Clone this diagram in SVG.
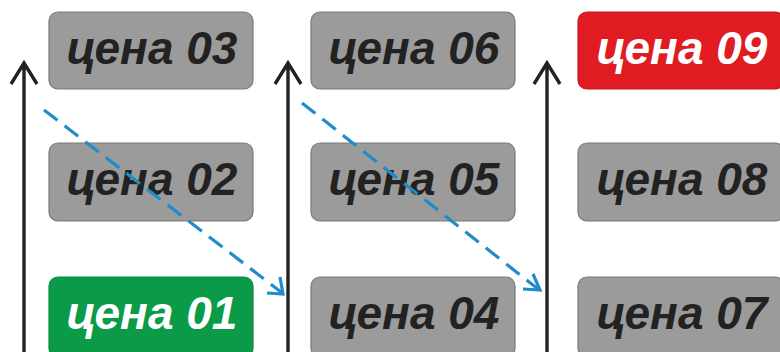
<svg xmlns="http://www.w3.org/2000/svg" width="780" height="352" viewBox="0 0 780 352">
<defs>
<style>
.box{stroke-width:1.2}
.gray{fill:#9b9b9b;stroke:#7a7a7a}
.green{fill:#0b9a48;stroke:#0b8a40}
.red{fill:#e11b22;stroke:#c8161c}
.lbl{font-family:"Liberation Sans",Arial,sans-serif;font-weight:bold;font-style:italic;font-size:46px;text-anchor:middle}
.dark{fill:#222222}
.light{fill:#ffffff}
.up{stroke:#222222;stroke-width:3.4;fill:none}
.dash{stroke:#1f8dc8;stroke-width:3.2;fill:none;stroke-dasharray:17 9}
.dhead{stroke:#1f8dc8;stroke-width:3.2;fill:none}
</style>
</defs>
<rect width="780" height="352" fill="#ffffff"/>
<g id="n03"><rect class="box gray" x="49" y="12" width="204" height="77" rx="9"/><text class="lbl dark" x="152" y="64">цена 03</text></g>
<g id="n02"><rect class="box gray" x="49" y="143" width="204" height="78" rx="9"/><text class="lbl dark" x="152" y="195">цена 02</text></g>
<g id="n01"><rect class="box green" x="49" y="277" width="204" height="80" rx="9"/><text class="lbl light" x="152" y="329">цена 01</text></g>
<g id="n06"><rect class="box gray" x="311" y="12" width="204" height="77" rx="9"/><text class="lbl dark" x="414" y="64">цена 06</text></g>
<g id="n05"><rect class="box gray" x="311" y="143" width="204" height="78" rx="9"/><text class="lbl dark" x="414" y="195">цена 05</text></g>
<g id="n04"><rect class="box gray" x="311" y="277" width="204" height="80" rx="9"/><text class="lbl dark" x="414" y="329">цена 04</text></g>
<g id="n09"><rect class="box red" x="578" y="12" width="206" height="77" rx="9"/><text class="lbl light" x="682" y="64">цена 09</text></g>
<g id="n08"><rect class="box gray" x="578" y="143" width="206" height="78" rx="9"/><text class="lbl dark" x="682" y="195">цена 08</text></g>
<g id="n07"><rect class="box gray" x="578" y="277" width="206" height="80" rx="9"/><text class="lbl dark" x="682" y="329">цена 07</text></g>
<g id="connectors">
<path class="up" d="M24 352V63M11 84L24 63L37 84"/>
<path class="up" d="M288 352V63M275 84L288 63L301 84"/>
<path class="up" d="M547 352V63M534 84L547 63L560 84"/>
<path class="dash" d="M44 110L281 292"/>
<path class="dhead" d="M280 277L283 294L267 293"/>
<path class="dash" d="M302 103L538 289"/>
<path class="dhead" d="M533 274L540 290L523 289"/>
</g>
</svg>
